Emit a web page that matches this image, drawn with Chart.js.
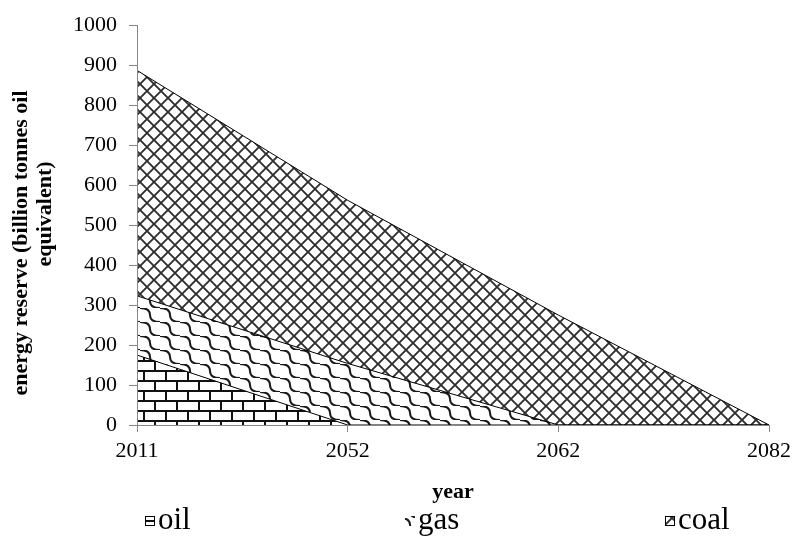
<!DOCTYPE html>
<html>
<head>
<meta charset="utf-8">
<script src="https://cdn.jsdelivr.net/npm/chart.js@4/dist/chart.umd.min.js"></script>
<style>
  html, body { margin: 0; padding: 0; background: #fff; }
  #wrap { width: 797px; height: 544px; }
</style>
</head>
<body>
<div id="wrap"><canvas id="c" width="797" height="544"></canvas></div>
<script>
// Remaining reserves by year (billion tonnes oil equivalent), stacked
const years = ['2011', '2052', '2062', '2082'];
const oil  = [175, 0, 0, 0];
const gas  = [148, 154, 0, 0];
const coal = [564, 408, 275, 0];
const seriesNames = ['oil', 'gas', 'coal'];
const yMax = 1000;
const yStep = 100;
const yTitleLines = ['energy reserve (billion tonnes oil', 'equivalent)'];
const xTitle = 'year';

const FONT = 'Liberation Serif';
const AXIS_GREY = '#868686';

// Small tiles turned into repeating fill patterns
function makeTile(w, h, draw) {
  const c = document.createElement('canvas');
  c.width = w; c.height = h;
  const g = c.getContext('2d');
  g.fillStyle = '#fff';
  g.fillRect(0, 0, w, h);
  draw(g, w, h);
  return c;
}
const canvas = document.getElementById('c');
const ctx = canvas.getContext('2d');

// horizontal brick
const brickTile = makeTile(22, 20, (g) => {
  g.fillStyle = '#111';
  g.fillRect(0, 0, 22, 2);
  g.fillRect(0, 10, 22, 2);
  g.fillRect(0, 0, 2, 10);
  g.fillRect(11, 10, 2, 10);
});
// diagonal wave
const waveTile = makeTile(20, 14, (g, w, h) => {
  g.strokeStyle = '#1a1a1a';
  g.lineWidth = 2;
  for (const k of [-1, 0, 1]) {
    const ox = k * w, oy = k * h;
    g.beginPath();
    g.moveTo(ox, oy);
    g.quadraticCurveTo(ox + w / 2, oy, ox + w / 2, oy + h / 2);
    g.quadraticCurveTo(ox + w / 2, oy + h, ox + w, oy + h);
    g.stroke();
  }
});
// diagonal cross-hatch
const crossTile = makeTile(14, 14, (g) => {
  g.strokeStyle = '#2e2e2e';
  g.lineWidth = 1.9;
  g.beginPath();
  g.moveTo(-1, -1); g.lineTo(15, 15);
  g.moveTo(15, -1); g.lineTo(-1, 15);
  g.stroke();
});

const fills = [
  ctx.createPattern(brickTile, 'repeat'),
  ctx.createPattern(waveTile, 'repeat'),
  ctx.createPattern(crossTile, 'repeat')
];
const values = [oil, gas, coal];

// Rotated two-line title beside the value axis
const yTitle = {
  id: 'yTitle',
  afterDraw(chart) {
    const c = chart.ctx;
    c.save();
    c.fillStyle = '#000';
    c.font = 'bold 22px "' + FONT + '"';
    c.textAlign = 'center';
    c.textBaseline = 'middle';
    const spots = [[21, 243], [45, 214]];
    yTitleLines.forEach((t, i) => {
      c.save();
      c.translate(spots[i][0], spots[i][1]);
      c.rotate(-Math.PI / 2);
      c.fillText(t, 0, 0);
      c.restore();
    });
    c.restore();
  }
};

// Legend laid out in evenly spaced columns under the axis title
const LEGEND_X0 = 145;
const LEGEND_STEP = 260;
const LEGEND_Y = 521;
const legendColumns = {
  id: 'legendColumns',
  afterDraw(chart) {
    const c = chart.ctx;
    c.save();
    chart.data.datasets.forEach((ds, i) => {
      const x = LEGEND_X0 + i * LEGEND_STEP;
      const s = 10;
      c.fillStyle = ds.backgroundColor;
      c.fillRect(x, LEGEND_Y - s / 2, s, s);
      if (i !== 1) {
        c.strokeStyle = '#000';
        c.lineWidth = 1;
        c.strokeRect(x + 0.5, LEGEND_Y - s / 2 + 0.5, s - 1, s - 1);
      }
      c.fillStyle = '#000';
      c.font = '31px "' + FONT + '"';
      c.textBaseline = 'middle';
      c.textAlign = 'left';
      c.fillText(ds.label, x + s + 3, LEGEND_Y);
    });
    c.restore();
  }
};

new Chart(canvas, {
  type: 'line',
  data: {
    labels: years,
    datasets: seriesNames.map((name, i) => ({
      label: name,
      data: values[i],
      backgroundColor: fills[i],
      borderColor: '#000',
      borderWidth: 1,
      fill: i === 0 ? 'origin' : '-1',
      pointRadius: 0,
      pointHoverRadius: 0,
      tension: 0
    }))
  },
  options: {
    responsive: false,
    animation: false,
    events: [],
    layout: { padding: { top: 20, right: 27, left: 0, bottom: 0 } },
    plugins: {
      legend: { display: false },
      tooltip: { enabled: false }
    },
    scales: {
      x: {
        type: 'category',
        offset: false,
        grid: { drawOnChartArea: false, drawTicks: true, tickLength: 7, color: AXIS_GREY },
        border: { color: AXIS_GREY, z: 1 },
        ticks: { font: { family: FONT, size: 22 }, color: '#000', padding: 6, maxRotation: 0, autoSkip: false },
        title: {
          display: true, text: xTitle, color: '#000',
          font: { family: FONT, size: 22, weight: 'bold' },
          padding: { top: 0, bottom: 38 }
        },
        afterFit(scale) { scale.height = 119; }
      },
      y: {
        stacked: true,
        min: 0,
        max: yMax,
        grid: { drawOnChartArea: false, drawTicks: true, tickLength: 8, color: AXIS_GREY },
        border: { color: AXIS_GREY, z: 1 },
        ticks: {
          stepSize: yStep,
          font: { family: FONT, size: 22 },
          color: '#000',
          padding: 12,
          callback: (v) => String(v)
        },
        title: { display: false },
        afterFit(scale) { scale.width = 137; }
      }
    }
  },
  plugins: [yTitle, legendColumns]
});
</script>
</body>
</html>
